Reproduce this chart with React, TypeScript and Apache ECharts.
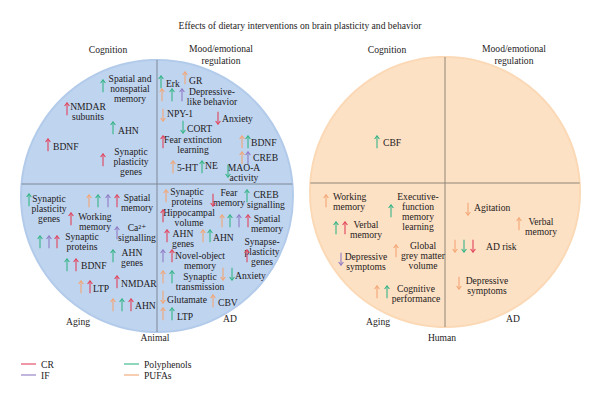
import React, { useEffect, useRef } from "react";
import * as echarts from "echarts";

// ---- legend / colour key ----
const legendNames = ["CR", "IF", "Polyphenols", "PUFAs"];
const legendColors = ["#e2435c", "#8f7bc4", "#35b487", "#f3a676"];
const codeToIndex: Record<string, number> = { R: 0, I: 1, G: 2, O: 3 };

const titleText = "Effects of dietary interventions on brain plasticity and behavior";

// ---- panels (circles) ----
const panelNames = ["Animal", "Human"];
const panelCx = [157, 445];
const panelCy = [196, 192];
const panelR = [136, 135];
const panelDivY = [184, 183];

// quadrant labels: [text, x, y]
const quadrantLabels: [string, number, number][] = [
  ["Cognition", 108, 49],
  ["Mood/emotional\nregulation", 221, 54],
  ["Aging", 78, 321],
  ["AD", 230, 318],
  ["Animal", 155, 337],
  ["Cognition", 387, 49],
  ["Mood/emotional\nregulation", 514, 54],
  ["Aging", 378, 321],
  ["AD", 513, 318],
  ["Human", 442, 337],
];

// findings: label, text x, text y, align, arrow codes, arrow xs, arrow y, direction (1 up, -1 down)
type Finding = [string, number, number, "left" | "center", string, number[], number, number];

const animalCognition: Finding[] = [
  ["Spatial and\nnonspatial\nmemory", 130, 88, "center", "G", [103], 86, 1],
  ["NMDAR\nsubunits", 88, 111, "center", "R", [67], 109, 1],
  ["AHN", 118, 130, "left", "G", [113], 128, 1],
  ["BDNF", 53, 146, "left", "R", [48], 145, 1],
  ["Synaptic\nplasticity\ngenes", 131, 161, "center", "R", [103], 160, 1],
];

const animalMood: Finding[] = [
  ["Erk", 166, 83, "left", "G", [161], 82, 1],
  ["GR", 189, 80, "left", "O", [185], 78, 1],
  ["Depressive-\nlike behavior", 212, 96, "center", "OGI", [162, 172, 182], 95, 1],
  ["NPY-1", 167, 113, "left", "O", [163], 115, -1],
  ["Anxiety", 222, 118, "left", "R", [218], 118, -1],
  ["CORT", 187, 128, "left", "G", [183], 127, -1],
  ["Fear extinction\nlearning", 193, 144, "center", "R", [163], 142, 1],
  ["BDNF", 251, 142, "left", "OG", [242, 248], 142, 1],
  ["CREB", 253, 157, "left", "OI", [242, 248], 158, 1],
  ["5-HT", 177, 167, "left", "O", [173], 167, 1],
  ["NE", 205, 165, "left", "G", [202], 167, 1],
  ["MAO-A\nactivity", 244, 172, "center", "G", [228], 171, -1],
];

const animalAging: Finding[] = [
  ["Synaptic\nplasticity\ngenes", 49, 208, "center", "G", [29], 200, 1],
  ["Working\nmemory", 95, 221, "center", "R", [71], 219, 1],
  ["Spatial\nmemory", 137, 202, "center", "OGIR", [89, 98, 108, 117], 201, 1],
  ["Ca²⁺\nsignalling", 137, 232, "center", "I", [117], 233, 1],
  ["Synaptic\nproteins", 82, 241, "center", "GIR", [40, 49, 57], 242, 1],
  ["AHN\ngenes", 132, 257, "center", "G", [113], 256, 1],
  ["BDNF", 81, 265, "left", "GR", [67, 76], 265, 1],
  ["LTP", 93, 288, "left", "OR", [81, 90], 287, 1],
  ["NMDAR", 121, 283, "left", "R", [117], 282, 1],
  ["AHN", 135, 305, "left", "OGR", [113, 122, 131], 305, 1],
];

const animalAD: Finding[] = [
  ["Synaptic\nproteins", 187, 196, "center", "O", [166], 196, 1],
  ["Fear\nmemory", 229, 197, "center", "R", [213], 200, -1],
  ["CREB\nsignalling", 266, 199, "center", "G", [247], 196, 1],
  ["Hippocampal\nvolume", 189, 217, "center", "R", [163], 216, 1],
  ["Spatial\nmemory", 267, 223, "center", "OGIR", [222, 230, 239, 248], 221, 1],
  ["AHN\ngenes", 183, 238, "center", "R", [167], 236, 1],
  ["AHN", 213, 237, "left", "OG", [203, 210], 236, 1],
  ["Synapse-\nplasticity\ngenes", 262, 251, "center", "R", [247], 256, 1],
  ["Novel-object\nmemory", 200, 260, "center", "IR", [163, 172], 256, 1],
  ["Synaptic\ntransmission", 200, 281, "center", "OG", [163, 172], 277, 1],
  ["Anxiety", 235, 275, "left", "OG", [223, 232], 274, -1],
  ["Glutamate", 167, 299, "left", "O", [163], 297, -1],
  ["CBV", 218, 302, "left", "O", [213], 301, 1],
  ["LTP", 177, 316, "left", "OG", [163, 172], 314, 1],
];

const humanCognition: Finding[] = [["CBF", 383, 142, "left", "G", [377], 142, 1]];

const humanAging: Finding[] = [
  ["Working\nmemory", 333, 201, "left", "O", [326], 201, 1],
  ["Executive-\nfunction\nmemory\nlearning", 418, 211, "center", "G", [391], 211, 1],
  ["Verbal\nmemory", 366, 229, "center", "GR", [336, 345], 228, 1],
  ["Global\ngrey matter\nvolume", 423, 255, "center", "O", [396], 251, 1],
  ["Depressive\nsymptoms", 366, 261, "center", "I", [341], 259, -1],
  ["Cognitive\nperformance", 416, 293, "center", "OG", [377, 387], 292, 1],
];

const humanAD: Finding[] = [
  ["Agitation", 474, 207, "left", "O", [468], 209, -1],
  ["Verbal\nmemory", 541, 226, "center", "O", [519], 224, 1],
  ["AD risk", 486, 246, "left", "OGR", [455, 464, 473], 246, -1],
  ["Depressive\nsymptoms", 487, 285, "center", "O", [459], 283, -1],
];

const allFindings: Finding[] = [
  ...animalCognition,
  ...animalMood,
  ...animalAging,
  ...animalAD,
  ...humanCognition,
  ...humanAging,
  ...humanAD,
];

// legend layout anchors
const legendCols = [21, 124];
const legendRows = [364, 375];

const FONT = '"Liberation Serif", "DejaVu Serif", serif';
const FS = 9.6;
const TEXT = "#1e1b1c";

function arrowShape(x: number, y: number, dir: number, color: string) {
  const half = 6.2;
  const tipY = y - dir * half;
  const tailY = y + dir * half;
  return {
    type: "group",
    children: [
      { type: "line", shape: { x1: x, y1: tailY, x2: x, y2: tipY }, style: { stroke: color, lineWidth: 1.1 } },
      {
        type: "polyline",
        shape: { points: [[x - 2.4, tipY + dir * 3.2], [x, tipY], [x + 2.4, tipY + dir * 3.2]] },
        style: { stroke: color, fill: "none", lineWidth: 1.1 },
      },
    ],
  };
}

export default function App() {
  const ref = useRef<HTMLDivElement>(null);
  useEffect(() => {
    if (!ref.current) return;
    const chart = echarts.init(ref.current, undefined, { renderer: "svg" });
    const fills = ["#bfd4ef", "#fde1c4"];
    const rims = ["#b3cbea", "#fbd9b6"];
    const divColors = ["#7f8896", "#8f8679"];

    const option: any = {
      animation: false,
      backgroundColor: "#ffffff",
      grid: { left: 0, right: 0, top: 0, bottom: 0 },
      xAxis: { type: "value", min: 0, max: 600, show: false },
      yAxis: { type: "value", min: 0, max: 400, inverse: true, show: false },
      series: [
        {
          type: "custom",
          clip: false,
          silent: true,
          data: panelNames.map((_, i) => [panelCx[i], panelCy[i]]),
          renderItem: (params: any, api: any) => {
            const i = params.dataIndex;
            const c = api.coord([panelCx[i], panelCy[i]]);
            const r = api.size([panelR[i], panelR[i]])[0];
            const dy = panelDivY[i] - panelCy[i];
            const hw = Math.sqrt(panelR[i] * panelR[i] - dy * dy);
            const hl = api.coord([panelCx[i] - hw, panelDivY[i]]);
            const hr = api.coord([panelCx[i] + hw, panelDivY[i]]);
            const vt = api.coord([panelCx[i], panelCy[i] - panelR[i]]);
            const vb = api.coord([panelCx[i], panelCy[i] + panelR[i]]);
            return {
              type: "group",
              children: [
                { type: "circle", shape: { cx: c[0], cy: c[1], r }, style: { fill: fills[i], stroke: rims[i], lineWidth: 2 } },
                { type: "line", shape: { x1: hl[0], y1: hl[1], x2: hr[0], y2: hr[1] }, style: { stroke: divColors[i], lineWidth: 1 } },
                { type: "line", shape: { x1: vt[0], y1: vt[1], x2: vb[0], y2: vb[1] }, style: { stroke: divColors[i], lineWidth: 1 } },
              ],
            };
          },
        },
        {
          type: "custom",
          clip: false,
          silent: true,
          data: quadrantLabels.map((q) => [q[1], q[2]]),
          renderItem: (params: any, api: any) => {
            const q = quadrantLabels[params.dataIndex];
            const p = api.coord([q[1], q[2]]);
            return {
              type: "text",
              x: p[0],
              y: p[1],
              style: { text: q[0], fill: TEXT, fontFamily: FONT, fontSize: FS, align: "center", verticalAlign: "middle", lineHeight: 12 },
            };
          },
        },
        {
          type: "custom",
          clip: false,
          silent: true,
          data: allFindings.map((f) => [f[1], f[2]]),
          renderItem: (params: any, api: any) => {
            const f = allFindings[params.dataIndex];
            const p = api.coord([f[1], f[2]]);
            const children: any[] = [
              {
                type: "text",
                x: p[0],
                y: p[1],
                style: { text: f[0], fill: TEXT, fontFamily: FONT, fontSize: FS, align: f[3], verticalAlign: "middle", lineHeight: 10 },
              },
            ];
            f[4].split("").forEach((code, k) => {
              const a = api.coord([f[5][k], f[6]]);
              children.push(arrowShape(a[0], a[1], f[7], legendColors[codeToIndex[code]]));
            });
            return { type: "group", children };
          },
        },
        {
          type: "custom",
          clip: false,
          silent: true,
          data: [[300, 25]],
          renderItem: (params: any, api: any) => {
            const p = api.coord([300, 25]);
            return {
              type: "text",
              x: p[0],
              y: p[1],
              style: { text: titleText, fill: TEXT, fontFamily: FONT, fontSize: FS, align: "center", verticalAlign: "middle" },
            };
          },
        },
        {
          type: "custom",
          clip: false,
          silent: true,
          data: legendNames.map((_, i) => [legendCols[Math.floor(i / 2)], legendRows[i % 2]]),
          renderItem: (params: any, api: any) => {
            const i = params.dataIndex;
            const x = legendCols[Math.floor(i / 2)];
            const y = legendRows[i % 2];
            const a = api.coord([x, y]);
            const b = api.coord([x + 15, y]);
            const t = api.coord([x + 20, y]);
            return {
              type: "group",
              children: [
                { type: "line", shape: { x1: a[0], y1: a[1], x2: b[0], y2: b[1] }, style: { stroke: legendColors[i], lineWidth: 1.1 } },
                {
                  type: "text",
                  x: t[0],
                  y: t[1],
                  style: { text: legendNames[i], fill: TEXT, fontFamily: FONT, fontSize: FS, align: "left", verticalAlign: "middle" },
                },
              ],
            };
          },
        },
      ],
    };
    chart.setOption(option);
    return () => chart.dispose();
  }, []);
  return <div ref={ref} style={{ position: "absolute", left: 0, top: 0, width: 600, height: 400 }} />;
}
